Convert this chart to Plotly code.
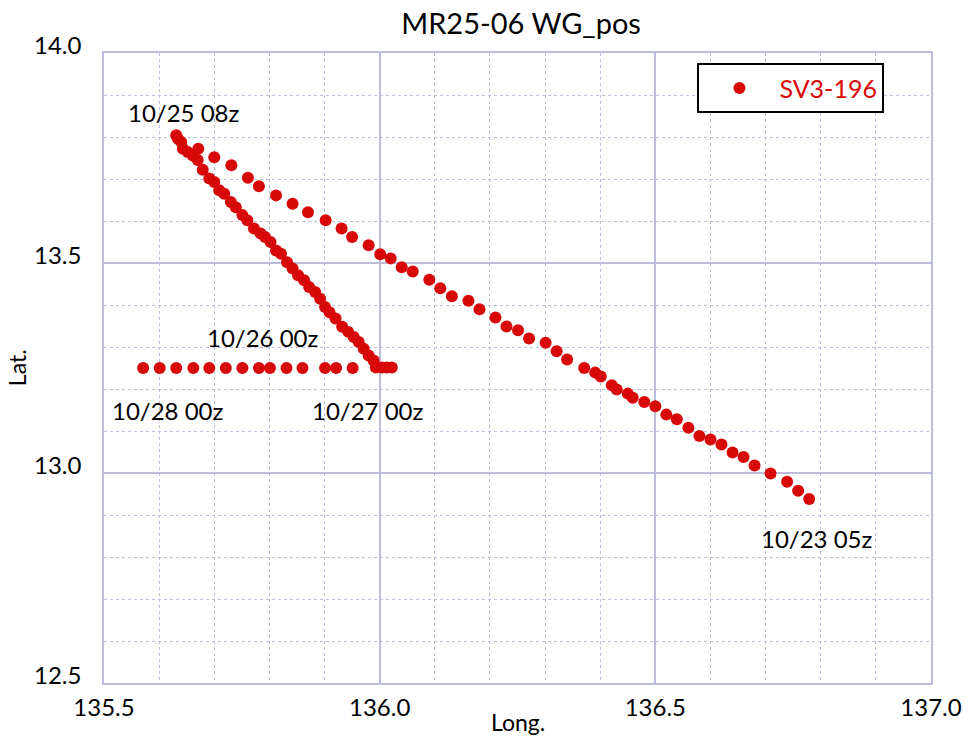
import plotly.graph_objects as go

# Wave Glider track positions, in time order (10/23 05z -> 10/28 00z)
lon = [
    136.779, 136.759, 136.739, 136.709, 136.680, 136.660, 136.640, 136.620, 136.600, 136.580,
    136.560, 136.539, 136.520, 136.500, 136.480, 136.459, 136.450, 136.430, 136.421, 136.401,
    136.391, 136.371, 136.340, 136.321, 136.301, 136.271, 136.251, 136.230, 136.210, 136.181,
    136.161, 136.131, 136.110, 136.090, 136.060, 136.040, 136.020, 136.001, 135.980, 135.950,
    135.931, 135.902, 135.870, 135.842, 135.812, 135.781, 135.761, 135.731, 135.700, 135.671,
    135.631, 135.634, 135.640, 135.643, 135.652, 135.661, 135.670, 135.679, 135.691, 135.700,
    135.709, 135.718, 135.730, 135.739, 135.751, 135.760, 135.772, 135.784, 135.792, 135.802,
    135.812, 135.821, 135.832, 135.842, 135.852, 135.863, 135.872, 135.883, 135.892, 135.901,
    135.909, 135.920, 135.932, 135.943, 135.953, 135.962, 135.971, 135.980, 135.989, 135.993,
    136.004, 136.013, 136.022,
    135.951, 135.921, 135.901, 135.860, 135.831, 135.801, 135.781, 135.751, 135.721, 135.691,
    135.662, 135.631, 135.601, 135.571,
]
lat = [
    12.938, 12.958, 12.979, 12.999, 13.018, 13.038, 13.049, 13.068, 13.080, 13.088,
    13.108, 13.128, 13.139, 13.159, 13.169, 13.179, 13.189, 13.199, 13.209, 13.230,
    13.239, 13.250, 13.270, 13.290, 13.310, 13.320, 13.340, 13.349, 13.370, 13.390,
    13.410, 13.421, 13.440, 13.460, 13.480, 13.490, 13.511, 13.521, 13.542, 13.562,
    13.582, 13.602, 13.621, 13.641, 13.661, 13.683, 13.703, 13.733, 13.752, 13.772,
    13.804, 13.796, 13.788, 13.772, 13.764, 13.756, 13.745, 13.722, 13.701, 13.693,
    13.673, 13.665, 13.645, 13.633, 13.614, 13.602, 13.582, 13.570, 13.562, 13.550,
    13.530, 13.522, 13.502, 13.487, 13.471, 13.459, 13.443, 13.431, 13.415, 13.395,
    13.383, 13.368, 13.348, 13.336, 13.324, 13.312, 13.296, 13.280, 13.268, 13.251,
    13.251, 13.251, 13.251,
    13.250, 13.250, 13.250, 13.250, 13.250, 13.250, 13.250, 13.250, 13.250, 13.250,
    13.250, 13.250, 13.250, 13.250,
]

# Time labels along the track
label_text = ["10/25 08z", "10/26 00z", "10/27 00z", "10/28 00z", "10/23 05z"]
label_lon = [135.646, 135.789, 135.978, 135.616, 136.793]
label_lat = [13.859, 13.322, 13.149, 13.149, 12.845]

series_name = "SV3-196"
title_text = "MR25-06 WG_pos"

FONT = "Lato, 'DejaVu Sans', sans-serif"
RED = "#d80808"
GRID = "#bcbcdc"

fig = go.Figure()
fig.add_trace(go.Scatter(
    x=lon, y=lat, mode="markers", name=series_name,
    marker=dict(color=RED, size=12, line=dict(width=0)),
    showlegend=True,
))

for t, x, y in zip(label_text, label_lon, label_lat):
    fig.add_annotation(x=x, y=y, text=t, showarrow=False,
                       font=dict(family=FONT, size=24, color="black"))

fig.update_xaxes(
    range=[135.5, 137.0], dtick=0.5, tick0=135.5, tickformat=".1f",
    showgrid=True, gridcolor=GRID, gridwidth=1.5,
    minor=dict(dtick=0.1, showgrid=True, gridcolor=GRID, griddash="dot", gridwidth=1),
    showline=True, linecolor=GRID, linewidth=1.5, mirror=True,
    zeroline=False, ticks="",
    tickfont=dict(family=FONT, size=24, color="black"),
    ticklabelstandoff=2,
)
fig.update_yaxes(
    range=[12.5, 14.0], dtick=0.5, tick0=12.5, tickformat=".1f",
    showgrid=True, gridcolor=GRID, gridwidth=1.5,
    minor=dict(dtick=0.1, showgrid=True, gridcolor=GRID, griddash="dot", gridwidth=1),
    showline=True, linecolor=GRID, linewidth=1.5, mirror=True,
    zeroline=False, ticks="",
    tickfont=dict(family=FONT, size=24, color="black"),
    ticklabelstandoff=16, ticklabelshift=-7,
)

# Axis titles
fig.add_annotation(xref="paper", yref="paper", x=0.5, y=-0.0624, yanchor="middle",
                   text="Long.", showarrow=False,
                   font=dict(family=FONT, size=23, color="black"))
fig.add_annotation(xref="paper", yref="paper", x=-0.105, y=0.5, xanchor="center",
                   text="Lat.", textangle=-90, showarrow=False,
                   font=dict(family=FONT, size=23, color="black"))

fig.update_layout(
    width=974, height=742,
    margin=dict(l=104, r=40, t=53, b=59),
    paper_bgcolor="white", plot_bgcolor="white",
    title=dict(text=title_text, x=0.535, xanchor="center", y=0.968, yanchor="middle",
               font=dict(family=FONT, size=29, color="black")),
    legend=dict(
        x=0.7176, y=0.9837, xanchor="left", yanchor="top",
        bgcolor="white", bordercolor="black", borderwidth=2,
        font=dict(family=FONT, size=25, color=RED),
        itemwidth=70,
    ),
)

fig.write_html("out.html")
